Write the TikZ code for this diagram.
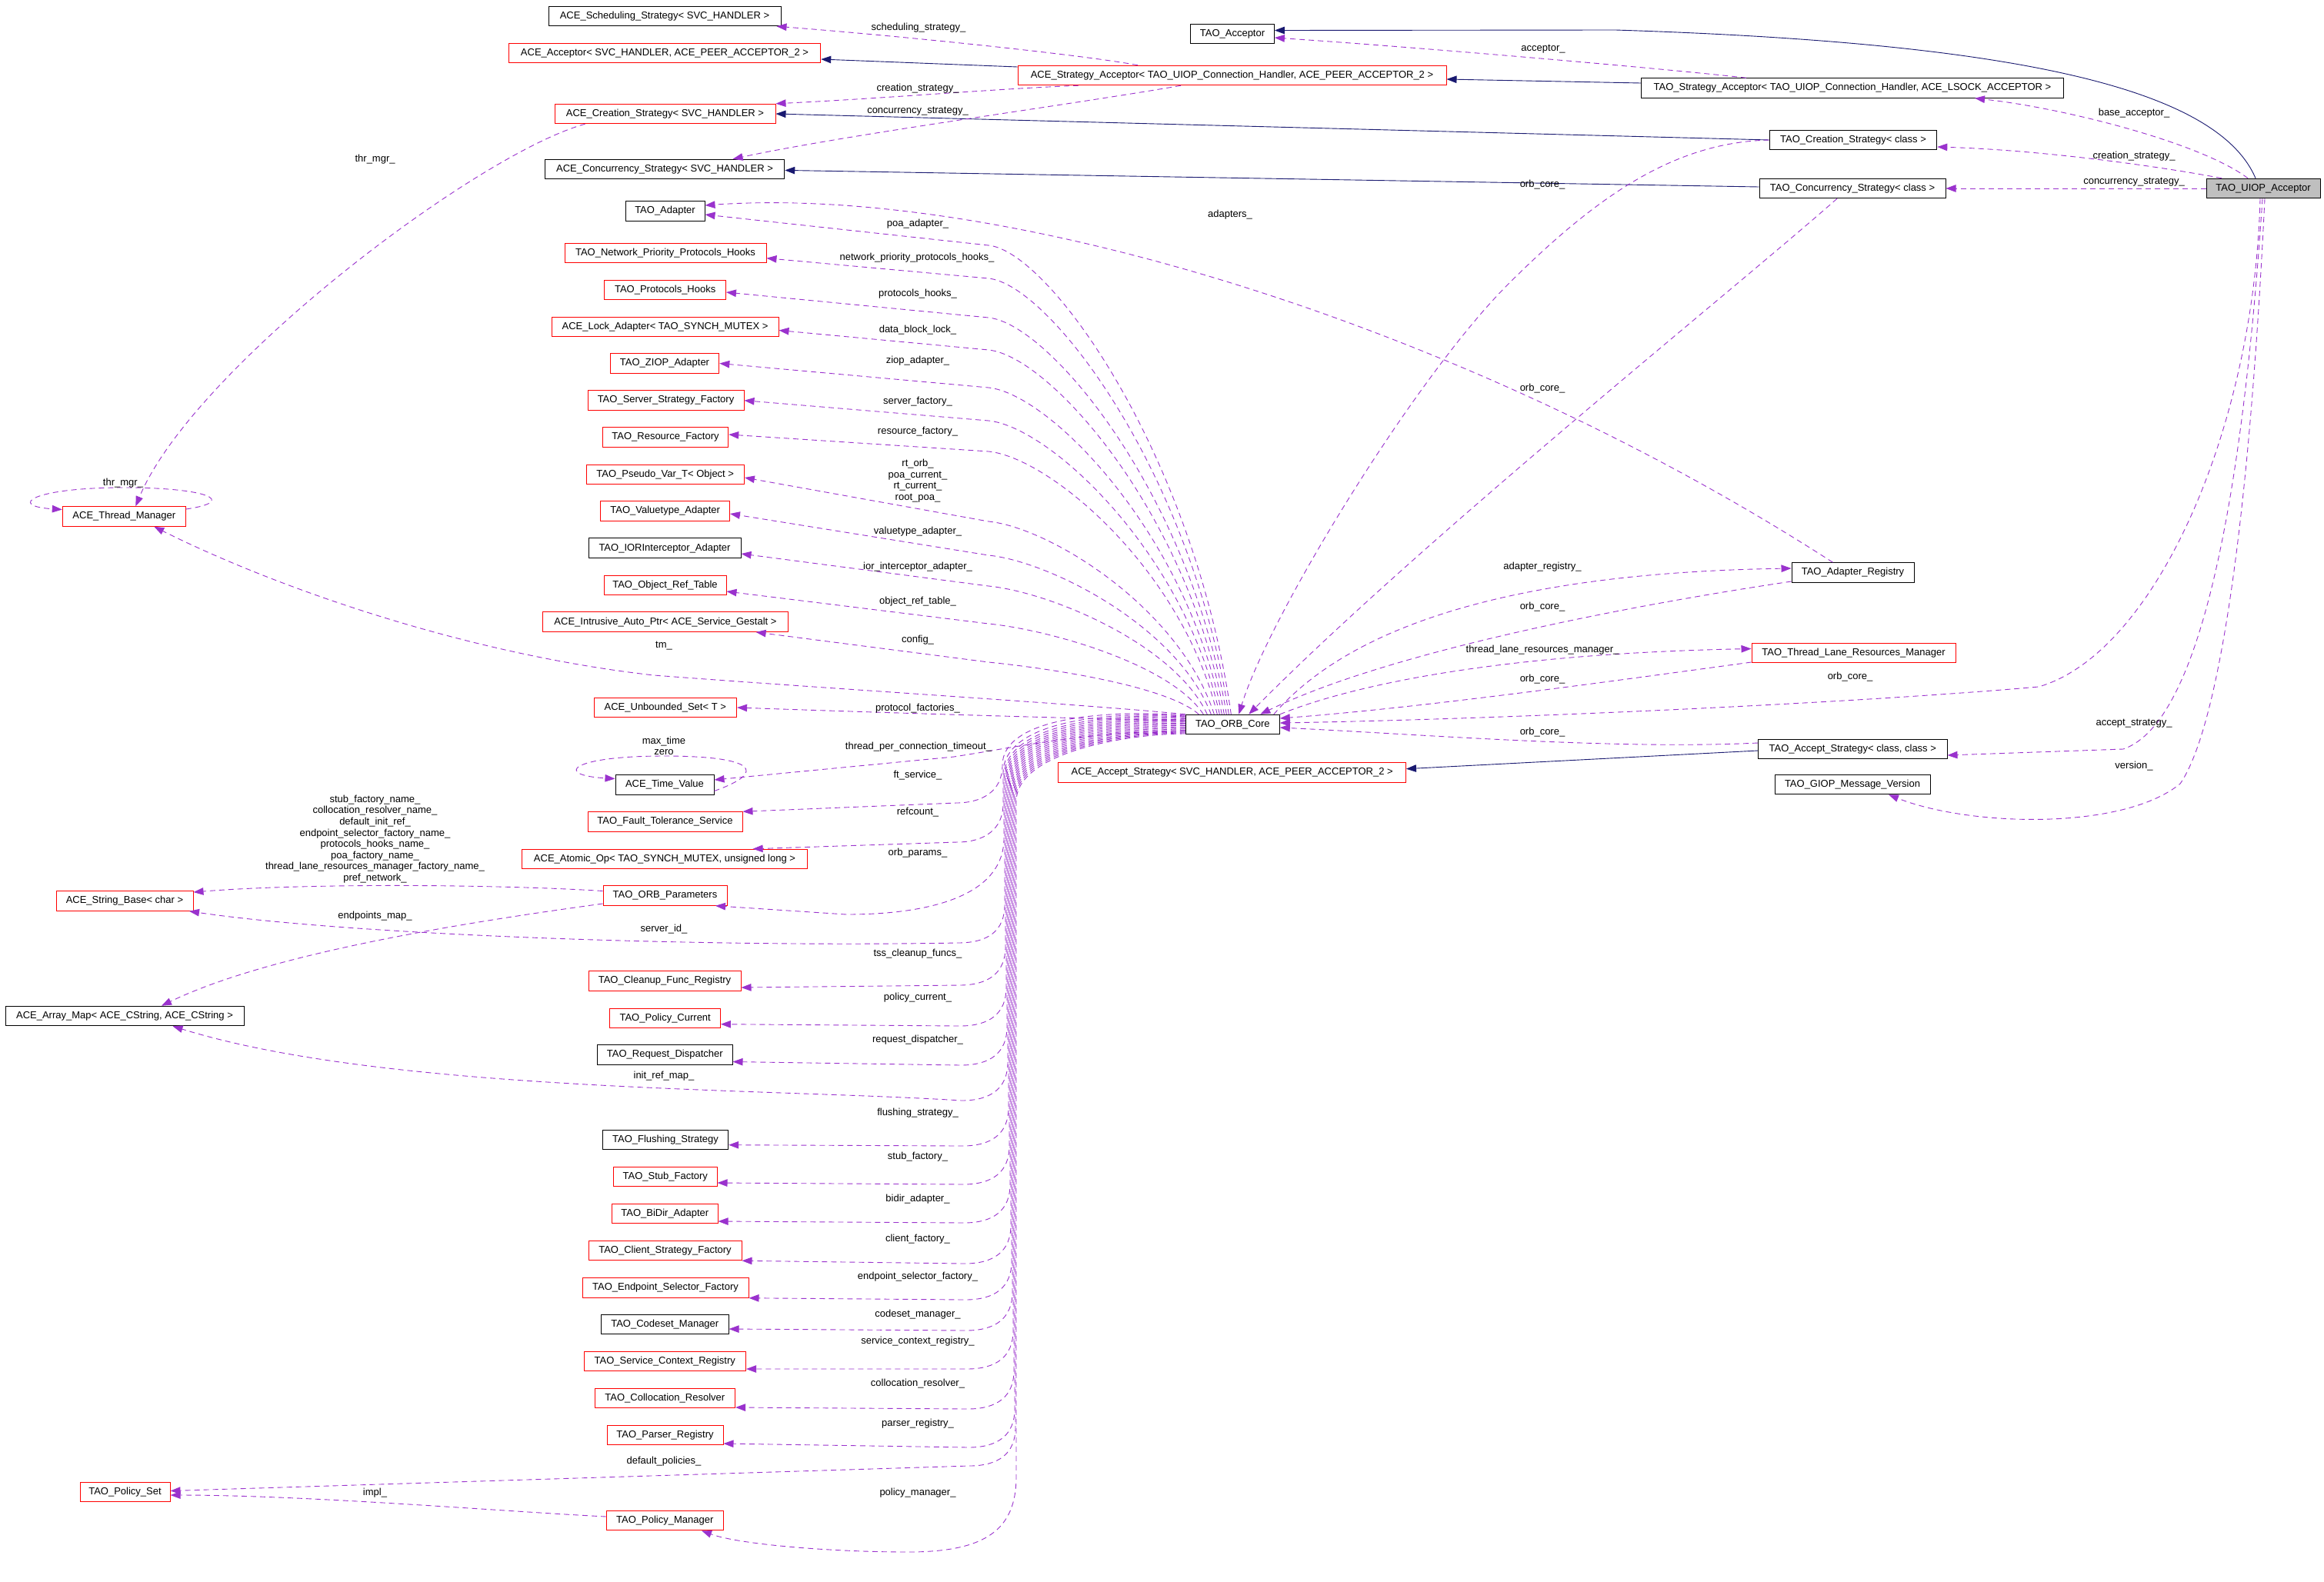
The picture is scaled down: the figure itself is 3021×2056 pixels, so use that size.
\documentclass[tikz,border=0pt]{standalone}
\usepackage{fontspec}
\setmainfont{Liberation Sans}
\usepackage{tikz}
\usetikzlibrary{arrows.meta}
\definecolor{usepurple}{RGB}{154,50,205}
\definecolor{inhnavy}{RGB}{25,25,112}
\definecolor{boxred}{RGB}{255,0,0}
\definecolor{boxgray}{RGB}{191,191,191}
\newcommand{\dotfont}{\fontsize{13}{14.6}\selectfont}

\begin{document}
\begin{tikzpicture}[x=1pt, y=-1pt, every node/.style={font=\dotfont},
    cls/.style={draw=black, line width=1pt, fill=white, inner sep=0pt, minimum height=25.5pt},
    redcls/.style={cls, draw=boxred},
    lbl/.style={inner sep=0pt, align=center},
    usage/.style={draw=usepurple, line width=0.9pt, dash pattern=on 7pt off 5pt, -{Triangle[length=13pt,width=9.5pt]}},
    inherit/.style={draw=inhnavy, line width=0.9pt, -{Triangle[length=13pt,width=9.5pt]}}]
    \fill[white] (0,0) rectangle (3021,2056);
    \useasboundingbox (0,0) rectangle (3021,2056);

    % left column of members
    \node[cls, minimum width=302] (schedstrat) at (864,21) {ACE\_Scheduling\_Strategy< SVC\_HANDLER >};
    \node[redcls, minimum width=405.5] (aceacceptor) at (864,69) {ACE\_Acceptor< SVC\_HANDLER, ACE\_PEER\_ACCEPTOR\_2 >};
    \node[redcls, minimum width=287] (acecreation) at (864.5,148) {ACE\_Creation\_Strategy< SVC\_HANDLER >};
    \node[cls, minimum width=311.5] (aceconc) at (864,220) {ACE\_Concurrency\_Strategy< SVC\_HANDLER >};
    \node[cls, minimum width=103] (taoadapter) at (864.5,274.5) {TAO\_Adapter};
    \node[redcls, minimum width=262] (nphooks) at (865,329) {TAO\_Network\_Priority\_Protocols\_Hooks};
    \node[redcls, minimum width=157.5] (phooks) at (864.7,377) {TAO\_Protocols\_Hooks};
    \node[redcls, minimum width=295] (lockadapter) at (864.5,425) {ACE\_Lock\_Adapter< TAO\_SYNCH\_MUTEX >};
    \node[redcls, minimum width=141.6] (ziop) at (864,472.5) {TAO\_ZIOP\_Adapter};
    \node[redcls, minimum width=203] (ssfactory) at (865.5,520.7) {TAO\_Server\_Strategy\_Factory};
    \node[redcls, minimum width=163.4] (resfactory) at (865,568.5) {TAO\_Resource\_Factory};
    \node[redcls, minimum width=205.4] (pseudovar) at (864.7,617) {TAO\_Pseudo\_Var\_T< Object >};
    \node[redcls, minimum width=167.5] (valuetype) at (864.7,664.5) {TAO\_Valuetype\_Adapter};
    \node[cls, minimum width=198] (iorinter) at (864,712.7) {TAO\_IORInterceptor\_Adapter};
    \node[redcls, minimum width=159] (objreftable) at (864.5,761) {TAO\_Object\_Ref\_Table};
    \node[redcls, minimum width=318.3] (intrusive) at (865,808.7) {ACE\_Intrusive\_Auto\_Ptr< ACE\_Service\_Gestalt >};
    \node[redcls, minimum width=185.6] (unbounded) at (864.8,920) {ACE\_Unbounded\_Set< T >};
    \node[cls, minimum width=128] (timevalue) at (864,1020.5) {ACE\_Time\_Value};
    \node[redcls, minimum width=201] (faulttol) at (864.5,1068.5) {TAO\_Fault\_Tolerance\_Service};
    \node[redcls, minimum width=370.5] (atomicop) at (864,1117) {ACE\_Atomic\_Op< TAO\_SYNCH\_MUTEX, unsigned long >};
    \node[redcls, minimum width=161] (orbparams) at (864.5,1164.5) {TAO\_ORB\_Parameters};
    \node[redcls, minimum width=198] (cleanup) at (864,1275.5) {TAO\_Cleanup\_Func\_Registry};
    \node[redcls, minimum width=143.5] (policycurrent) at (864.7,1324) {TAO\_Policy\_Current};
    \node[cls, minimum width=175.4] (reqdisp) at (864.3,1371.5) {TAO\_Request\_Dispatcher};
    \node[cls, minimum width=163.4] (flushing) at (865,1482) {TAO\_Flushing\_Strategy};
    \node[redcls, minimum width=134.4] (stubfactory) at (864.8,1530) {TAO\_Stub\_Factory};
    \node[redcls, minimum width=137.5] (bidir) at (864.3,1578) {TAO\_BiDir\_Adapter};
    \node[redcls, minimum width=199] (clientfactory) at (864.5,1626) {TAO\_Client\_Strategy\_Factory};
    \node[redcls, minimum width=216] (endpointsel) at (865,1674.5) {TAO\_Endpoint\_Selector\_Factory};
    \node[cls, minimum width=165.5] (codeset) at (864.3,1722) {TAO\_Codeset\_Manager};
    \node[redcls, minimum width=210.5] (servicectx) at (864.3,1770) {TAO\_Service\_Context\_Registry};
    \node[redcls, minimum width=182.5] (colloc) at (864.3,1818) {TAO\_Collocation\_Resolver};
    \node[redcls, minimum width=151] (parserreg) at (864.5,1866) {TAO\_Parser\_Registry};
    \node[redcls, minimum width=151.5] (policymgr) at (864.3,1977) {TAO\_Policy\_Manager};

    % far left
    \node[redcls, minimum width=160] (threadmgr) at (161.3,671.5) {ACE\_Thread\_Manager};
    \node[redcls, minimum width=178] (stringbase) at (162,1171.5) {ACE\_String\_Base< char >};
    \node[cls, minimum width=310] (arraymap) at (162,1321) {ACE\_Array\_Map< ACE\_CString, ACE\_CString >};
    \node[redcls, minimum width=117] (policyset) at (162.5,1940) {TAO\_Policy\_Set};

    % middle column
    \node[cls, minimum width=108.7] (taoacceptor) at (1602,44) {TAO\_Acceptor};
    \node[redcls, minimum width=557] (acestratacc) at (1601.5,98) {ACE\_Strategy\_Acceptor< TAO\_UIOP\_Connection\_Handler, ACE\_PEER\_ACCEPTOR\_2 >};
    \node[cls, minimum width=122] (orbcore) at (1602.3,942) {TAO\_ORB\_Core};
    \node[redcls, minimum width=451.5] (aceaccept) at (1601.7,1004.7) {ACE\_Accept\_Strategy< SVC\_HANDLER, ACE\_PEER\_ACCEPTOR\_2 >};

    % right column
    \node[cls, minimum width=549.5] (taostratacc) at (2408,114.5) {TAO\_Strategy\_Acceptor< TAO\_UIOP\_Connection\_Handler, ACE\_LSOCK\_ACCEPTOR >};
    \node[cls, minimum width=217.6] (taocreation) at (2409,182) {TAO\_Creation\_Strategy< class >};
    \node[cls, minimum width=242] (taoconc) at (2408,245) {TAO\_Concurrency\_Strategy< class >};
    \node[cls, fill=boxgray, minimum width=148] (uiop) at (2942,245) {TAO\_UIOP\_Acceptor};
    \node[cls, minimum width=159] (adapterreg) at (2408.5,744.5) {TAO\_Adapter\_Registry};
    \node[redcls, minimum width=265] (tlrm) at (2409.5,849) {TAO\_Thread\_Lane\_Resources\_Manager};
    \node[cls, minimum width=245.4] (taoaccept) at (2408.3,974) {TAO\_Accept\_Strategy< class, class >};
    \node[cls, minimum width=202] (giopver) at (2408,1020) {TAO\_GIOP\_Message\_Version};

    % inheritance
    \draw[inherit] ([xshift=-10pt]uiop.north) .. controls (2880,110) and (2600,55) .. (2100,39) -- ([yshift=4.5pt]taoacceptor.east);
    \draw[inherit] ([yshift=6.5pt]taostratacc.west) -- ([yshift=-5pt]acestratacc.east);
    \draw[inherit] ([yshift=11pt]acestratacc.west) -- ([yshift=-8pt]aceacceptor.east);
    \draw[inherit] (taocreation.west) -- (acecreation.east);
    \draw[inherit] ([yshift=2pt]taoconc.west) -- ([yshift=-1.4pt]aceconc.east);
    \draw[inherit] ([yshift=-2pt]taoaccept.west) -- ([yshift=5pt]aceaccept.east);

    % members of TAO_UIOP_Acceptor
    \draw[usage] ([xshift=-20pt]uiop.north) .. controls (2860,185) and (2680,140) .. ([xshift=159pt]taostratacc.south);
    \draw[usage] ([xshift=-54pt]uiop.north) .. controls (2800,215) and (2650,195) .. ([yshift=-9pt]taocreation.east);
    \draw[usage] (uiop.west) -- (taoconc.east);
    \draw[usage] ([xshift=-4pt]uiop.south) .. controls (2930,560) and (2800,850) .. (2650,893) .. controls (2400,915) and (1950,935) .. ([yshift=2pt]orbcore.east);
    \draw[usage] ([xshift=-1pt]uiop.south) .. controls (2915,650) and (2860,940) .. (2760,974) -- ([yshift=-8pt]taoaccept.east);
    \draw[usage] ([xshift=2pt]uiop.south) .. controls (2920,750) and (2875,960) .. (2834,1019) .. controls (2760,1080) and (2560,1075) .. ([xshift=47pt]giopver.south);

    % strategy acceptors
    \draw[usage] ([xshift=-138pt]taostratacc.north) .. controls (2150,88) and (1850,62) .. ([yshift=-5pt]taoacceptor.east);
    \draw[usage] ([xshift=-122.5pt]acestratacc.north) .. controls (1400,70) and (1150,45) .. ([xshift=-6pt]schedstrat.south east);
    \draw[usage] ([xshift=-199.5pt]acestratacc.south) .. controls (1300,115) and (1150,128) .. (acecreation.north east);
    \draw[usage] ([xshift=-66.5pt]acestratacc.south) .. controls (1400,135) and (1100,175) .. ([xshift=88.6pt]aceconc.north);
    \draw[usage] ([xshift=40pt]acecreation.south west) .. controls (620,200) and (250,480) .. ([xshift=15pt]threadmgr.north);
    \draw[usage] ([yshift=9.5pt]threadmgr.east) .. controls (310,652) and (270,634) .. (161,634) .. controls (40,634) and (10,658) .. ([yshift=9pt]threadmgr.west);

    % TAO_ORB_Core, upper members
    \draw[usage] (orbcore.north west) .. controls (1400,915) and (1100,897) .. (850,878) .. controls (600,850) and (350,760) .. ([xshift=39pt]threadmgr.south);
    \draw[usage] ([xshift=-2pt]orbcore.north) .. controls (1553,594) and (1365,327) .. (1285,319) -- ([yshift=-4.5pt]taoadapter.east);
    \draw[usage] ([xshift=-5pt]orbcore.north) .. controls (1550,617) and (1365,370) .. (1285,362) -- ([yshift=-6.7pt]nphooks.east);
    \draw[usage] ([xshift=-8pt]orbcore.north) .. controls (1548,645) and (1365,421) .. (1285,413) -- ([yshift=-3pt]phooks.east);
    \draw[usage] ([xshift=-11pt]orbcore.north) .. controls (1545,668) and (1365,463) .. (1285,455) -- ([yshift=-4.5pt]lockadapter.east);
    \draw[usage] ([xshift=-14pt]orbcore.north) .. controls (1543,695) and (1365,512) .. (1285,504) -- (ziop.east);
    \draw[usage] ([xshift=-17pt]orbcore.north) .. controls (1540,719) and (1365,555) .. (1285,547) -- (ssfactory.east);
    \draw[usage] ([xshift=-20pt]orbcore.north) .. controls (1537,741) and (1365,595) .. (1285,587) -- ([yshift=3.5pt]resfactory.east);
    \draw[usage] ([xshift=-24pt]orbcore.north) .. controls (1534,791) and (1365,686) .. (1285,678) -- ([yshift=-4pt]pseudovar.east);
    \draw[usage] ([xshift=-28pt]orbcore.north) .. controls (1531,815) and (1365,730) .. (1285,722) -- ([yshift=-3.5pt]valuetype.east);
    \draw[usage] ([xshift=-33pt]orbcore.north) .. controls (1526,837) and (1365,770) .. (1285,762) -- ([yshift=-7.3pt]iorinter.east);
    \draw[usage] ([xshift=-38pt]orbcore.north) .. controls (1522,864) and (1365,819) .. (1285,811) -- ([yshift=-8pt]objreftable.east);
    \draw[usage] ([xshift=-44pt]orbcore.north) .. controls (1517,892) and (1365,869) .. (1285,861) -- ([xshift=-42pt]intrusive.south east);
    \draw[usage] ([yshift=5pt]orbcore.west) .. controls (1380,934) and (1100,925) .. (unbounded.east);

    % TAO_ORB_Core, lower members
    \draw[usage] ([yshift=-9pt]orbcore.west) .. controls (1420,950) and (1330,970) .. (1240,984) -- ([yshift=6.5pt]timevalue.east);
    \draw[usage] ([yshift=-8pt]timevalue.east) .. controls (1000,1003) and (980,983) .. (863,983) .. controls (740,983) and (720,1008) .. ([yshift=8pt]timevalue.west);
    \draw[usage] ([yshift=12pt]orbcore.west) .. controls (1430,922) and (1303,935) .. (1303,995) .. controls (1303,1030) and (1275,1044) .. (1243,1044) -- (faulttol.north east);
    \draw[usage] ([yshift=11pt]orbcore.west) .. controls (1432,924) and (1304,940) .. (1304,1005) -- (1304,1045) .. controls (1304,1078) and (1280,1095) .. (1244,1095) -- ([xshift=114.6pt]atomicop.north);
    \draw[usage] ([yshift=10pt]orbcore.west) .. controls (1434,926) and (1305,944) .. (1305,1010) -- (1305,1090) .. controls (1305,1160) and (1220,1189) .. (1100,1189) -- ([xshift=-15.5pt]orbparams.south east);
    \draw[usage] ([yshift=9pt]orbcore.west) .. controls (1436,928) and (1306,947) .. (1306,1012) -- (1306,1176) .. controls (1306,1210) and (1285,1226) .. (1245,1226) .. controls (900,1232) and (450,1215) .. ([xshift=-5.5pt]stringbase.south east);
    \draw[usage] ([yshift=7.5pt]orbcore.west) .. controls (1438,930) and (1307,950) .. (1307,1014) -- (1307,1231) .. controls (1307,1265) and (1285,1281) .. (1247,1281) -- ([yshift=-8.5pt]cleanup.east);
    \draw[usage] ([yshift=6pt]orbcore.west) .. controls (1440,932) and (1308,952) .. (1308,1016) -- (1308,1284) .. controls (1308,1318) and (1286,1334) .. (1248,1334) -- ([yshift=-7.7pt]policycurrent.east);
    \draw[usage] ([yshift=4.5pt]orbcore.west) .. controls (1442,934) and (1309,954) .. (1309,1018) -- (1309,1335) .. controls (1309,1369) and (1287,1385) .. (1249,1385) -- ([yshift=-9pt]reqdisp.east);
    \draw[usage] ([yshift=3pt]orbcore.west) .. controls (1444,936) and (1310,956) .. (1310,1020) -- (1310,1381) .. controls (1310,1415) and (1288,1431) .. (1250,1431) .. controls (1000,1415) and (500,1420) .. ([xshift=62.5pt]arraymap.south);
    \draw[usage] ([yshift=1.5pt]orbcore.west) .. controls (1446,938) and (1311,958) .. (1311,1022) -- (1311,1440) .. controls (1311,1474) and (1289,1490) .. (1251,1490) -- ([yshift=-6.7pt]flushing.east);
    \draw[usage] (orbcore.west) .. controls (1448,940) and (1312,960) .. (1312,1024) -- (1312,1490) .. controls (1312,1524) and (1290,1540) .. (1252,1540) -- ([yshift=-8pt]stubfactory.east);
    \draw[usage] ([yshift=-1.5pt]orbcore.west) .. controls (1450,942) and (1313,962) .. (1313,1026) -- (1313,1540) .. controls (1313,1574) and (1291,1590) .. (1253,1590) -- ([yshift=-10pt]bidir.east);
    \draw[usage] ([yshift=-3pt]orbcore.west) .. controls (1452,944) and (1314,964) .. (1314,1028) -- (1314,1593) .. controls (1314,1627) and (1292,1643) .. (1254,1643) -- (clientfactory.south east);
    \draw[usage] ([yshift=-4.5pt]orbcore.west) .. controls (1454,946) and (1315,966) .. (1315,1030) -- (1315,1640) .. controls (1315,1674) and (1293,1690) .. (1255,1690) -- (endpointsel.south east);
    \draw[usage] ([yshift=-6pt]orbcore.west) .. controls (1456,948) and (1316,968) .. (1316,1032) -- (1316,1680) .. controls (1316,1714) and (1294,1730) .. (1256,1730) -- ([yshift=-6pt]codeset.east);
    \draw[usage] ([yshift=-7.5pt]orbcore.west) .. controls (1458,950) and (1317,970) .. (1317,1034) -- (1317,1730) .. controls (1317,1764) and (1295,1780) .. (1257,1780) -- ([yshift=-10pt]servicectx.east);
    \draw[usage] ([yshift=-9pt]orbcore.west) .. controls (1460,951) and (1318,972) .. (1318,1036) -- (1318,1782) .. controls (1318,1816) and (1296,1832) .. (1258,1832) -- ([yshift=-12pt]colloc.east);
    \draw[usage] ([yshift=-10pt]orbcore.west) .. controls (1462,952) and (1319,974) .. (1319,1038) -- (1319,1832) .. controls (1319,1866) and (1297,1882) .. (1259,1882) -- ([yshift=-11pt]parserreg.east);
    \draw[usage] ([yshift=-11pt]orbcore.west) .. controls (1464,953) and (1320,976) .. (1320,1040) -- (1320,1856) .. controls (1320,1890) and (1298,1906) .. (1260,1906) -- ([yshift=1.5pt]policyset.east);
    \draw[usage] ([yshift=-12pt]orbcore.west) .. controls (1466,954) and (1321,978) .. (1321,1042) -- (1321,1920) .. controls (1321,1990) and (1280,2018) .. (1180,2018) .. controls (1080,2018) and (960,2008) .. ([xshift=47.7pt]policymgr.south);

    % parameters, policies
    \draw[usage] ([yshift=6pt]orbparams.west) .. controls (650,1150) and (400,1148) .. ([yshift=11.5pt]stringbase.east);
    \draw[usage] ([yshift=-10.5pt]orbparams.west) .. controls (600,1200) and (350,1240) .. ([xshift=48pt]arraymap.north);
    \draw[usage] ([yshift=5pt]policymgr.west) .. controls (650,1965) and (400,1944) .. ([yshift=-4pt]policyset.east);

    % right side into TAO_ORB_Core
    \draw[usage] (taocreation.west) .. controls (2180,185) and (2080,250) .. (1960,370) .. controls (1840,490) and (1650,800) .. ([xshift=8pt]orbcore.north);
    \draw[usage] ([xshift=-20pt]taoconc.south) .. controls (2250,380) and (1850,700) .. ([xshift=21pt]orbcore.north);
    \draw[usage] ([xshift=-26pt]adapterreg.north) .. controls (1900,420) and (1300,240) .. ([yshift=7.5pt]taoadapter.east);
    \draw[usage] ([xshift=-8pt]orbcore.north east) .. controls (1750,820) and (1950,745) .. ([yshift=5.5pt]adapterreg.west);
    \draw[usage] ([yshift=-11.5pt]adapterreg.west) .. controls (2100,790) and (1800,850) .. ([xshift=36pt]orbcore.north);
    \draw[usage] (orbcore.north east) .. controls (1760,890) and (1950,850) .. ([yshift=5.5pt]tlrm.west);
    \draw[usage] ([yshift=-12pt]tlrm.west) .. controls (2100,885) and (1850,920) .. ([yshift=8pt]orbcore.east);
    \draw[usage] ([yshift=8pt]taoaccept.west) .. controls (2100,975) and (1850,955) .. ([yshift=-4pt]orbcore.east);

    % edge labels
    \node[lbl] (lsched) at (1194,36.6) {scheduling\_strategy\_};
    \node[lbl] (lacecre) at (1193,115) {creation\_strategy\_};
    \node[lbl] (laceconc) at (1193,145) {concurrency\_strategy\_};
    \node[lbl] (lthrmgr) at (487.6,207.6) {thr\_mgr\_};
    \node[lbl] (lthrloop) at (160,628) {thr\_mgr\_};
    \node[lbl] (lacceptor) at (2006,64) {acceptor\_};
    \node[lbl] (lbase) at (2774,147) {base\_acceptor\_};
    \node[lbl] (ltaocre) at (2774,203) {creation\_strategy\_};
    \node[lbl] (ltaoconc) at (2774,236.6) {concurrency\_strategy\_};
    \node[lbl] (lorbcre) at (2005,240) {orb\_core\_};
    \node[lbl] (ladapters) at (1599,279) {adapters\_};
    \node[lbl] (lpoa) at (1193,291) {poa\_adapter\_};
    \node[lbl] (lnph) at (1192,335) {network\_priority\_protocols\_hooks\_};
    \node[lbl] (lph) at (1193,382.6) {protocols\_hooks\_};
    \node[lbl] (ldbl) at (1193,428.6) {data\_block\_lock\_};
    \node[lbl] (lziop) at (1193,469) {ziop\_adapter\_};
    \node[lbl] (lsf) at (1193,522) {server\_factory\_};
    \node[lbl] (lorbconc) at (2005,505) {orb\_core\_};
    \node[lbl] (lrf) at (1193,560.7) {resource\_factory\_};
    \node[lbl] (lpseudo) at (1193,625) {rt\_orb\_\\poa\_current\_\\rt\_current\_\\root\_poa\_};
    \node[lbl] (lvalue) at (1193,691) {valuetype\_adapter\_};
    \node[lbl] (ladreg) at (2005,737) {adapter\_registry\_};
    \node[lbl] (lior) at (1193,737) {ior\_interceptor\_adapter\_};
    \node[lbl] (lobjref) at (1193,782.6) {object\_ref\_table\_};
    \node[lbl] (lorbar) at (2005,789) {orb\_core\_};
    \node[lbl] (lconfig) at (1193,831.7) {config\_};
    \node[lbl] (ltm) at (863,840) {tm\_};
    \node[lbl] (ltlrm) at (2005,845) {thread\_lane\_resources\_manager\_};
    \node[lbl] (lorbuiop) at (2405,880) {orb\_core\_};
    \node[lbl] (lorbtlrm) at (2005,883) {orb\_core\_};
    \node[lbl] (lpf) at (1193,921) {protocol\_factories\_};
    \node[lbl] (laccstrat) at (2774,941) {accept\_strategy\_};
    \node[lbl] (lorbacc) at (2005,952) {orb\_core\_};
    \node[lbl] (ltime) at (863,970) {max\_time\\zero};
    \node[lbl] (ltimeout) at (1194,971) {thread\_per\_connection\_timeout\_};
    \node[lbl] (lversion) at (2774,995.6) {version\_};
    \node[lbl] (lft) at (1193,1008.5) {ft\_service\_};
    \node[lbl] (lref) at (1193,1056) {refcount\_};
    \node[lbl] (lparams) at (1193,1109) {orb\_params\_};
    \node[lbl] (lnames) at (487.5,1091) {stub\_factory\_name\_\\collocation\_resolver\_name\_\\default\_init\_ref\_\\endpoint\_selector\_factory\_name\_\\protocols\_hooks\_name\_\\poa\_factory\_name\_\\thread\_lane\_resources\_manager\_factory\_name\_\\pref\_network\_};
    \node[lbl] (lendpoints) at (487.5,1191) {endpoints\_map\_};
    \node[lbl] (lserverid) at (863,1207.6) {server\_id\_};
    \node[lbl] (ltss) at (1193,1240) {tss\_cleanup\_funcs\_};
    \node[lbl] (lpc) at (1193,1297) {policy\_current\_};
    \node[lbl] (lrd) at (1193,1352) {request\_dispatcher\_};
    \node[lbl] (linit) at (863,1399) {init\_ref\_map\_};
    \node[lbl] (lflush) at (1193,1447) {flushing\_strategy\_};
    \node[lbl] (lstub) at (1193,1504) {stub\_factory\_};
    \node[lbl] (lbidir) at (1193,1559) {bidir\_adapter\_};
    \node[lbl] (lclient) at (1193,1611) {client\_factory\_};
    \node[lbl] (lendsel) at (1193,1660) {endpoint\_selector\_factory\_};
    \node[lbl] (lcodeset) at (1193,1709) {codeset\_manager\_};
    \node[lbl] (lsctx) at (1193,1744) {service\_context\_registry\_};
    \node[lbl] (lcolloc) at (1193,1799) {collocation\_resolver\_};
    \node[lbl] (lparser) at (1193,1851) {parser\_registry\_};
    \node[lbl] (ldefpol) at (863,1900) {default\_policies\_};
    \node[lbl] (limpl) at (487.5,1941) {impl\_};
    \node[lbl] (lpm) at (1193,1941) {policy\_manager\_};
\end{tikzpicture}
\end{document}
